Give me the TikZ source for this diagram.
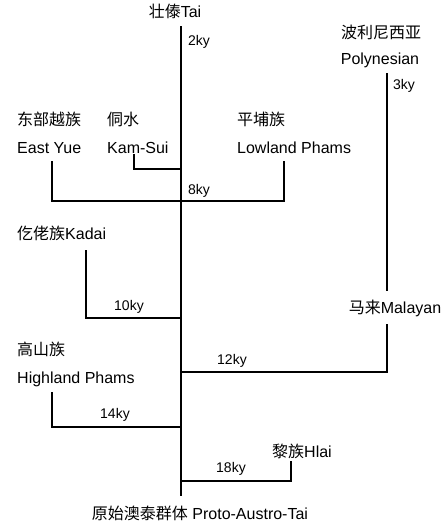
\documentclass[tikz,border=0pt]{standalone}
\usepackage{fontspec}
\setmainfont{Liberation Sans}
\newfontfamily\cjk{Noto Sans CJK SC}
\newcommand{\zh}[1]{{\cjk #1}}
\begin{document}
\begin{tikzpicture}[x=1pt,y=-1pt,
  lbl/.style={inner sep=0pt,font=\fontsize{16}{19}\selectfont},
  age/.style={inner sep=0pt,anchor=west,font=\fontsize{14}{17}\selectfont},
  branch/.style={line width=1.5pt,line cap=rect}]
\useasboundingbox[fill=white] (0,0) rectangle (444,524);
% labels
\node[lbl] (tai) at (175,11) {\zh{壮傣}Tai};
\node[lbl] (polyzh) at (381,32) {\zh{波利尼西亚}};
\node[lbl] (poly) at (380,60) {Polynesian};
\node[lbl,anchor=west] (eyzh) at (17,119) {\zh{东部越族}};
\node[lbl,anchor=west] (ey) at (17,148) {East Yue};
\node[lbl,anchor=west] (kszh) at (107,119) {\zh{侗水}};
\node[lbl,anchor=west] (ks) at (107,148) {Kam-Sui};
\node[lbl,anchor=west] (lpzh) at (237,119) {\zh{平埔族}};
\node[lbl,anchor=west] (lp) at (237,148) {Lowland Phams};
\node[lbl,anchor=west] (kd) at (17,233) {\zh{仡佬族}Kadai};
\node[lbl] (ml) at (395,308) {\zh{马来}Malayan};
\node[lbl,anchor=west] (hpzh) at (17,349) {\zh{高山族}};
\node[lbl,anchor=west] (hp) at (17,379) {Highland Phams};
\node[lbl] (hl) at (302,451) {\zh{黎族}Hlai};
\node[lbl] (pat) at (200,513) {\zh{原始澳泰群体} Proto-Austro-Tai};
% ages
\node[age] (a2) at (188,42) {2ky};
\node[age] (a3) at (393,86) {3ky};
\node[age] (a8) at (188,191) {8ky};
\node[age] (a10) at (114,307) {10ky};
\node[age] (a12) at (217,361) {12ky};
\node[age] (a14) at (100,415) {14ky};
\node[age] (a18) at (216,469) {18ky};
% coordinates
\coordinate (tTop) at (181,27);
\coordinate (tBot) at (181,495);
\coordinate (jks) at (181,169);
\coordinate (j8) at (181,201);
\coordinate (j10) at (181,318);
\coordinate (j12) at (181,372);
\coordinate (j14) at (181,427);
\coordinate (j18) at (181,481);
\coordinate (eyS) at (52,162);
\coordinate (lpS) at (284,162);
\coordinate (ksS) at (134,155);
\coordinate (kdS) at (86,251);
\coordinate (pyS) at (387,74);
\coordinate (pyE) at (387,290);
\coordinate (mlS) at (387,325);
\coordinate (hpS) at (52,393);
\coordinate (hlS) at (291,462);
% branches
\draw[branch] (tTop) -- (tBot);
\draw[branch] (eyS) |- (j8) -| (lpS);
\draw[branch] (ksS) |- (jks);
\draw[branch] (kdS) |- (j10);
\draw[branch] (pyS) -- (pyE);
\draw[branch] (mlS) |- (j12);
\draw[branch] (hpS) |- (j14);
\draw[branch] (hlS) |- (j18);
\end{tikzpicture}
\end{document}
